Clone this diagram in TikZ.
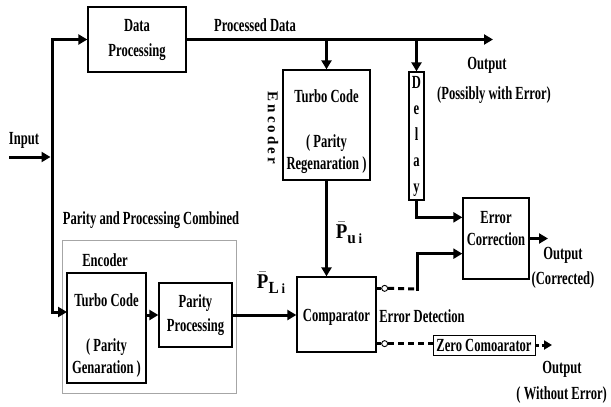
\documentclass[tikz,border=0pt]{standalone}
\usepackage{fontspec}
\usepackage{amsmath}
\setmainfont{Liberation Serif}[FakeStretch=0.68]
\newfontfamily\encfont{Liberation Serif}[LetterSpace=20]
\newfontfamily\labfont{Liberation Serif}[FakeStretch=0.9]
\usetikzlibrary{arrows.meta,calc}
\newcommand{\pbar}[1]{$\bar{\text{P}}$\raisebox{-5pt}{\fontsize{17}{20}\selectfont #1}}
\begin{document}
\begin{tikzpicture}[x=1pt,y=-1pt,
  every node/.style={font=\bfseries\fontsize{18.5}{22}\selectfont, inner sep=0pt},
  blk/.style={draw, line width=1.3pt, fill=white, align=center},
  flow/.style={line width=3pt, line join=miter, -{Triangle[length=9pt,width=10pt]}},
  thickline/.style={line width=3pt, line join=miter},
  dashline/.style={line width=3pt, dash pattern=on 6pt off 4pt},
  port/.style={circle, draw, fill=white, line width=0.9pt, minimum size=6pt},
  biglab/.style={font=\labfont\bfseries\fontsize{21}{24}\selectfont}
]
\useasboundingbox (0,0) rectangle (611,407);

% outer group box
\node[draw=gray!70, line width=1pt, minimum width=174, minimum height=153] (comb) at (149,316.5) {};

% blocks
\node[blk, minimum width=98, minimum height=65] (dp) at (137,39.5) {Data\\[3pt]Processing};
\node[blk, minimum width=87, minimum height=110] (tr) at (326.5,125) {};
\node[align=center] (trt) at (326.5,132) {Turbo Code\\[23pt](\,Parity\\Regenaration\,)};
\node[blk, minimum width=15, minimum height=128] (delay) at (416.5,136) {D\\[4pt]e\\[4pt]l\\[4pt]a\\[4pt]y};
\node[blk, minimum width=66, minimum height=81] (ec) at (496,238.5) {};
\node (ect) at (496,229) [align=center] {Error\\Correction};
\node[blk, minimum width=79, minimum height=75] (cmp) at (336.5,314.5) {};
\node (cmpt) at (336.5,317) {Comparator};
\node[blk, line width=1pt, minimum width=102, minimum height=20] (zc) at (484,345) {Zero Comoarator};
\node[blk, minimum width=79, minimum height=110] (tg) at (106.5,328) {};
\node[align=center] (tgt) at (106.5,336) {Turbo Code\\[23pt](\,Parity\\Genaration\,)};
\node[blk, minimum width=73, minimum height=64] (pp) at (195.5,315) {Parity\\[2pt]Processing};

% texts
\node (inl) at (24,140) {Input};
\node (pdl) at (255,25) {Processed Data};
\node (out1) at (487,65) {Output};
\node (out1b) at (494,95) {(Possibly with Error)};
\node[rotate=-90, font=\encfont\bfseries\fontsize{15}{18}\selectfont] (encr) at (273,128) {Encoder};
\node (pcl) at (151,220) {Parity and Processing Combined};
\node (encl) at (105,260) {Encoder};
\node (edl) at (422,316) {Error Detection};
\node (out2) at (563,255) {Output};
\node (out2b) at (563,280) {(Corrected)};
\node (out3) at (562,369) {Output};
\node[anchor=east] (out3b) at (607,395) {(\,Without Error)};
\node[biglab] (pu) at (349,233) {\pbar{u\,\fontsize{14}{16}\selectfont i}};
\node[biglab] (pl) at (271,283) {\pbar{L\,\fontsize{14}{16}\selectfont i}};

% coordinates
\coordinate (inp) at (9,157);
\coordinate (jn) at (52,157);
\coordinate (tgin) at (67,312);
\coordinate (outp) at (493,39.5);
\coordinate (ecin1) at ($(ec.north west)+(0,20)$);
\coordinate (ecin2) at ($(ec.south west)+(0,-26)$);
\coordinate (c1) at ($(cmp.north east)+(0,12)$);
\coordinate (c2) at ($(cmp.south east)+(0,-9)$);
\node[port] (o1) at ($(c1)+(8,0)$) {};
\node[port] (o2) at ($(c2)+(8,0)$) {};
\coordinate (k1) at (417,289);
\coordinate (ecout) at (548,238.5);
\coordinate (zout) at (552,345);

% connectors
\draw[flow] (inp) -- ($(jn)+(-1.5,0)$);
\draw[flow] (jn) |- (dp.west);
\draw[flow] (jn) |- (tgin);
\draw[flow] (dp.east) -- (outp);
\draw[flow] (tr.north |- dp.east) -- (tr.north);
\draw[flow] (delay.north |- dp.east) -- (delay.north);
\draw[flow] (tr.south) -- (tr.south |- cmp.north);
\draw[flow] (delay.south) |- (ecin1);
\draw[thickline] (c1) -- (o1.west);
\draw[thickline] (c2) -- (o2.west);
\draw[dashline] (o1.east) -- (k1);
\draw[flow] ($(k1)+(0,1.5)$) |- (ecin2);
\draw[dashline] (o2.east) -- (zc.west |- o2);
\draw[line width=3pt, dash pattern=on 3pt off 3pt, -{Triangle[length=8pt,width=9pt]}] (zc.east) -- (zout);
\draw[flow] (ec.east) -- (ecout);
\draw[flow] (tg.east |- pp.west) -- (pp.west);
\draw[flow] (pp.east) -- (pp.east -| cmp.west);
\end{tikzpicture}
\end{document}
